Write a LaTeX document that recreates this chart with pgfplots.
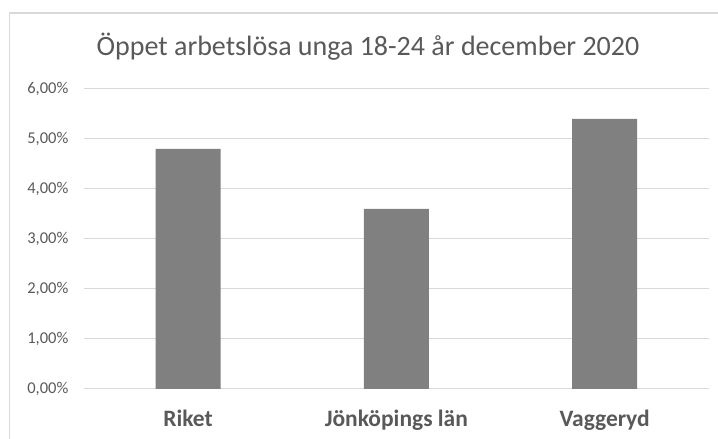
\documentclass[border=0pt]{standalone}
\usepackage{pgfplots}
\pgfplotsset{compat=1.18}
\usepackage{fontspec}
\setmainfont{Carlito}
\definecolor{gridc}{HTML}{D9D9D9}
\definecolor{txt}{HTML}{595959}
\definecolor{barc}{HTML}{808080}
\begin{document}
\begin{tikzpicture}
\useasboundingbox (0pt,0pt) rectangle (718pt,439pt);
\draw[gridc,line width=1.2pt] (9.5pt,0pt) -- (9.5pt,426pt) -- (718pt,426pt);
\node[txt,font=\fontsize{28}{32}\selectfont] at (368pt,392pt) {Öppet arbetslösa unga 18-24 år december 2020};
\begin{axis}[
  at={(188pt,50pt)}, anchor=origin,
  scale only axis, width=625pt, height=300pt,
  xmin=-0.5, xmax=2.5, ymin=0, ymax=6,
  xtick={0,1,2}, xticklabels={Riket,Jönköpings län,Vaggeryd},
  ytick={0,1,2,3,4,5,6},
  yticklabels={{0,00\%},{1,00\%},{2,00\%},{3,00\%},{4,00\%},{5,00\%},{6,00\%}},
  ymajorgrids, xmajorgrids=false, grid style={gridc,line width=1pt},
  axis line style={draw=none},
  tick style={draw=none},
  major tick length=0pt,
  yticklabel style={txt,font=\fontsize{16.5}{18}\selectfont, xshift=-12pt},
  xticklabel style={txt,font=\bfseries\fontsize{23.5}{26}\selectfont, yshift=-17pt},
  /pgf/number format/assume math mode=true,
]
\addplot[ybar, bar width=65pt, fill=barc, draw=none] coordinates {(0,4.8) (1,3.6) (2,5.4)};
\end{axis}
\end{tikzpicture}
\end{document}
